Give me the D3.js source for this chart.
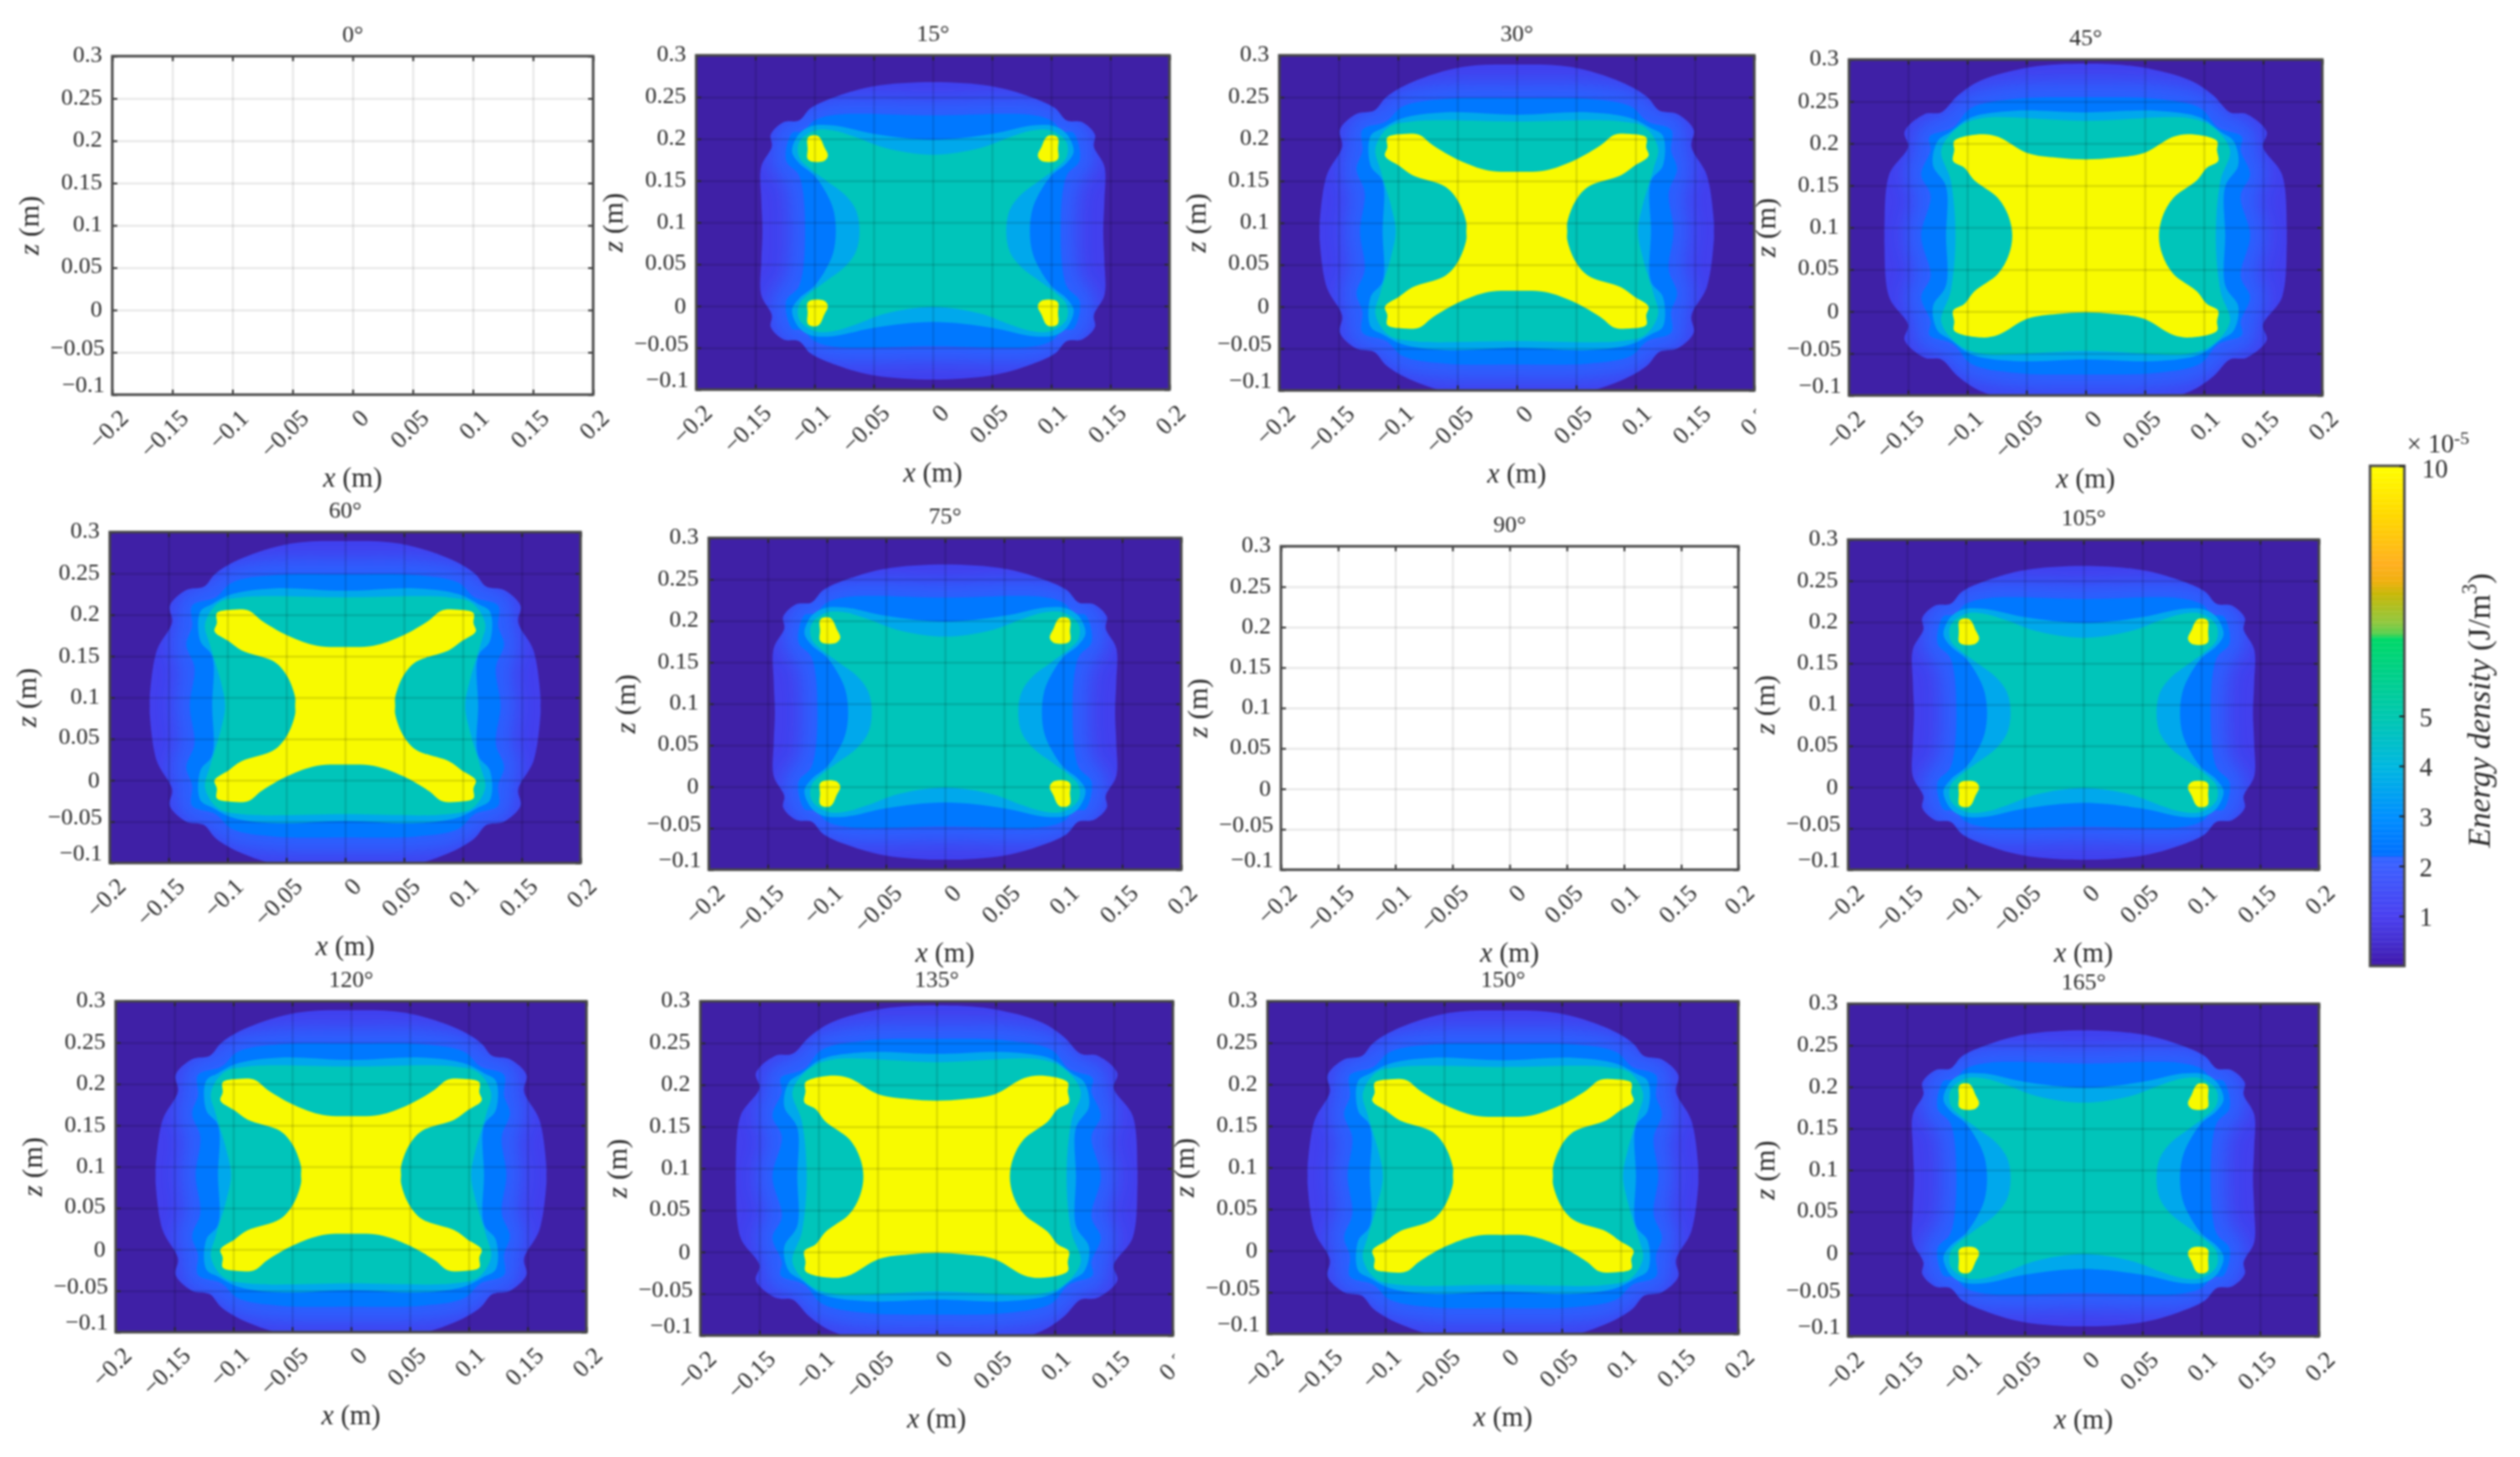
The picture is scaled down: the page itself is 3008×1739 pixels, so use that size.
<!DOCTYPE html>
<html><head><meta charset="utf-8">
<script src="https://cdn.jsdelivr.net/npm/d3@7"></script>
<style>
html,body{margin:0;padding:0;background:#fff}
svg{display:block;filter:blur(0.8px)}
text{font-family:"Liberation Serif","Times New Roman",serif;fill:#2b2b2b}
</style></head><body>
<svg id="chart" width="3008" height="1739"></svg>
<script>
// ---------- data ----------
const angles = [0,15,30,45,60,75,90,105,120,135,150,165];
const panelFamily = ["none","A","B","C","B","A","none","A","B","C","B","A"];
const xTicks = [-0.2,-0.15,-0.1,-0.05,0,0.05,0.1,0.15,0.2];
const xTickLabels = ["−0.2","−0.15","−0.1","−0.05","0","0.05","0.1","0.15","0.2"];
const zTicks = [-0.1,-0.05,0,0.05,0.1,0.15,0.2,0.25,0.3];
const zTickLabels = ["−0.1","−0.05","0","0.05","0.1","0.15","0.2","0.25","0.3"];
const cbarTicks = [1,2,3,4,5,10];
const symmetryZ = 0.09;
// contour levels (x 1e-5 J/m3), one per ring
const ringLevels = [1.3,2.4,3.6,4.8];
// upper-right quadrant of each contour, [x (m), z (m)]
const ringsA = [
 [[0,.268],[.05,.263],[.081,.251],[.103,.237],[.113,.222],[.126,.220],[.137,.205],[.136,.191],[.145,.167],[.145,.127],[.144,.09]],
 [[0,.228],[.081,.229],[.100,.222],[.110,.209],[.119,.207],[.124,.174],[.113,.156],[.108,.09]],
 [[0,.199],[.05,.206],[.084,.216],[.103,.215],[.113,.206],[.119,.185],[.113,.171],[.1,.156],[.09,.135],[.084,.115],[.082,.09]],
 [[0,.181],[.04,.189],[.065,.202],[.084,.21],[.100,.21],[.113,.196],[.113,.178],[.106,.167],[.09,.15],[.075,.134],[.065,.115],[.062,.09]]
];
const ringsB = [
 [[0,.289],[.046,.286],[.088,.268],[.11,.25],[.12,.234],[.135,.23],[.149,.211],[.147,.191],[.16,.157],[.166,.1],[.166,.09]],
 [[0,.249],[.06,.248],[.096,.239],[.11,.221],[.13,.211],[.13,.186],[.135,.164],[.128,.136],[.132,.09]],
 [[0,.229],[.06,.232],[.096,.225],[.113,.213],[.123,.204],[.123,.168],[.113,.15],[.113,.09]],
 [[0,.221],[.088,.221],[.108,.214],[.119,.189],[.115,.164],[.106,.121],[.102,.09]]
];
const ringsC = [
 [[0,.295],[.046,.291],[.0885,.275],[.108,.257],[.122,.237],[.136,.235],[.153,.214],[.15,.196],[.166,.163],[.17,.1],[.17,.09]],
 [[0,.255],[.06,.253],[.097,.242],[.112,.219],[.132,.208],[.131,.192],[.139,.163],[.131,.138],[.139,.09]],
 [[0,.237],[.06,.239],[.097,.231],[.114,.214],[.125,.203],[.129,.174],[.118,.149],[.118,.09]],
 [[0,.227],[.0885,.23],[.108,.219],[.122,.192],[.114,.156],[.11,.09]]
];
const peakB = [[0,.161],[.024,.1625],[.049,.175],[.071,.193],[.082,.205],[.096,.206],[.109,.202],[.109,.19],[.111,.18],[.099,.168],[.088,.157],[.06,.143],[.049,.125],[.0425,.1],[.0425,.09]];
const peakC = [[0,.181],[.024,.183],[.049,.1885],[.074,.208],[.0885,.211],[.111,.203],[.111,.192],[.112,.179],[.1025,.171],[.094,.156],[.074,.135],[.065,.113],[.062,.09]];
const cornerBlobA = [[.097,.203],[.105,.202],[.1055,.188],[.105,.175],[.092,.174],[.089,.18],[.092,.19]];
// colour map of the colour bar
const cmapValues = [0,.5,1,2,2.2,2.21,3,4,5,6.55,6.65,6.87,7.45,7.7,8.04,9,10];
const cmapColors = ["#3f15a8","#4530d0","#4a40f0","#3d60ff","#3064ff","#0070ff","#0090ff","#00b8e0","#00c8b0","#00d868","#58d050","#90c840","#c8b808","#f0b010","#ffb020","#ffd800","#ffff00"];

// ---------- layout (px) ----------
const boxes = [
 [134,708,67,471],[831,1396,66,465],[1527,2094,66,466],[2207,2772,71,472],
 [131,693,635,1030],[846,1410,642,1038],[1529,2075,652,1038],[2206,2768,644,1038],
 [138,700,1195,1590],[836,1400,1195,1594],[1513,2075,1195,1592],[2206,2768,1198,1595]
];
const clippedRightLabel = new Set([30,135]);
const cbarBox = [2829,2870,556,1153];

// ---------- drawing ----------
const svg = d3.select("#chart");
const defs = svg.append("defs");
defs.append("filter").attr("id","soft").attr("x","-30%").attr("y","-30%").attr("width","160%").attr("height","160%")
  .append("feGaussianBlur").attr("stdDeviation",11);
const cmap = d3.scaleLinear().domain(cmapValues).range(cmapColors).interpolate(d3.interpolateRgb);
const rings = {A:ringsA,B:ringsB,C:ringsC};
const line = d3.line().curve(d3.curveCatmullRomClosed.alpha(0.5));

function fullContour(q){
  const c = symmetryZ;
  const lowerRight = q.slice(0,-1).reverse().map(([x,z])=>[x,2*c-z]);
  const right = q.concat(lowerRight);
  const left = right.slice(1,-1).reverse().map(([x,z])=>[-x,z]);
  return right.concat(left);
}
function xIt(s,sym,rest){ s.append("tspan").attr("font-style","italic").text(sym); s.append("tspan").text(rest); }

angles.forEach((ang,i)=>{
  const [x0,x1,y0,y1] = boxes[i];
  const fam = panelFamily[i];
  const X = d3.scaleLinear().domain([-0.2,0.2]).range([x0,x1]);
  const Z = d3.scaleLinear().domain([-0.1,0.3]).range([y1,y0]);
  const g = svg.append("g").attr("class","panel");
  const clipId = "clip"+i;
  defs.append("clipPath").attr("id",clipId).append("rect").attr("x",x0).attr("y",y0).attr("width",x1-x0).attr("height",y1-y0);
  const plot = g.append("g").attr("clip-path",`url(#${clipId})`);
  const toPx = pts => line(pts.map(([x,z])=>[X(x),Z(z)]));
  if(fam!=="none"){
    plot.append("rect").attr("x",x0).attr("y",y0).attr("width",x1-x0).attr("height",y1-y0).attr("fill","#3f20a6");
    const rs = rings[fam];
    rs.forEach((q,k)=>{
      const d = toPx(fullContour(q));
      plot.append("path").attr("d",d).attr("fill",k===0?"#4240ee":cmap(ringLevels[k]));
      if(k===0){
        const hid="halo"+i;
        defs.append("clipPath").attr("id",hid).append("path").attr("d",d);
        plot.append("g").attr("clip-path",`url(#${hid})`).append("path")
          .attr("d",toPx(fullContour(rs[1]))).attr("fill","none").attr("stroke","#2c62ff").attr("stroke-width",36).attr("filter","url(#soft)");
      }
    });
    if(fam==="A"){
      [[1,1],[-1,1],[1,-1],[-1,-1]].forEach(([sx,sz])=>{
        const blob = cornerBlobA.map(([x,z])=>[sx*x, sz>0?z:2*symmetryZ-z]);
        plot.append("path").attr("d",toPx(blob)).attr("fill","#f8fa00").attr("stroke","#f8fa00").attr("stroke-width",1);
      });
    } else {
      plot.append("path").attr("d",toPx(fullContour(fam==="B"?peakB:peakC))).attr("fill","#f8fa00");
    }
  }
  // grid
  const gridX = g.append("g").attr("transform",`translate(0,${y1})`).call(d3.axisBottom(X).tickValues(xTicks).tickSize(-(y1-y0)).tickFormat(""));
  const gridZ = g.append("g").attr("transform",`translate(${x0},0)`).call(d3.axisLeft(Z).tickValues(zTicks).tickSize(-(x1-x0)).tickFormat(""));
  [gridX,gridZ].forEach(a=>{a.select(".domain").remove(); a.selectAll("line").attr("stroke","#000").attr("stroke-opacity",fam==="none"?0.09:0.12).attr("stroke-width",2.5);});
  // inward ticks on all four sides
  const tl=6;
  const tickLines=(axis,tx,ty)=>{const a=g.append("g").attr("transform",`translate(${tx},${ty})`).call(axis.tickSize(tl).tickFormat("")); a.select(".domain").remove(); a.selectAll("line").attr("stroke","#2a2a2a").attr("stroke-width",2);};
  tickLines(d3.axisTop(X).tickValues(xTicks),0,y1);
  tickLines(d3.axisBottom(X).tickValues(xTicks),0,y0);
  tickLines(d3.axisRight(Z).tickValues(zTicks),x0,0);
  tickLines(d3.axisLeft(Z).tickValues(zTicks),x1,0);
  g.append("rect").attr("x",x0).attr("y",y0).attr("width",x1-x0).attr("height",y1-y0).attr("fill","none").attr("stroke","#474747").attr("stroke-width",3);
  // x labels
  const xLab = g.append("g");
  if(clippedRightLabel.has(ang)){
    defs.append("clipPath").attr("id","lab"+i).append("rect").attr("x",0).attr("y",0).attr("width",x1+2).attr("height",1739);
    xLab.attr("clip-path",`url(#lab${i})`);
  }
  xTicks.forEach((v,j)=>{
    const px=X(v)+16, py=y1+25;
    xLab.append("text").attr("transform",`translate(${px},${py}) rotate(-45)`).attr("text-anchor","end").attr("dominant-baseline","middle").attr("font-size",29).text(xTickLabels[j]);
  });
  // z labels (the lowest two sit nudged upward in the original)
  const zNudge=[-9,-3,2,0,1,1,1,1,1];
  zTicks.forEach((v,j)=>{
    g.append("text").attr("x",x0-(j===1||j===0?9:12)).attr("y",Z(v)+zNudge[j]).attr("text-anchor","end").attr("dominant-baseline","middle").attr("font-size",28).text(zTickLabels[j]);
  });
  g.append("text").attr("x",(x0+x1)/2).attr("y",y0-23).attr("text-anchor","middle").attr("dominant-baseline","middle").attr("font-size",28).text(ang+"°");
  const xl=g.append("text").attr("x",(x0+x1)/2).attr("y",y1+102).attr("text-anchor","middle").attr("dominant-baseline","middle").attr("font-size",33);
  xIt(xl,"x"," (m)");
  const zl=g.append("text").attr("transform",`translate(${x0-96},${(y0+y1)/2}) rotate(-90)`).attr("text-anchor","middle").attr("dominant-baseline","middle").attr("font-size",34).attr("fill","#3a3a3a");
  xIt(zl,"z"," (m)");
});

// colour bar
const [cx0,cx1,cy0,cy1]=cbarBox;
const CB = d3.scaleLinear().domain([0,10]).range([cy1,cy0]);
const cbGrid = d3.range(0,10,0.02);
svg.append("g").selectAll("rect").data(cbGrid).join("rect")
  .attr("x",cx0).attr("width",cx1-cx0).attr("y",d=>CB(d+0.02)).attr("height",d=>CB(d)-CB(d+0.02)+0.5).attr("fill",d=>cmap(d+0.01));
svg.append("rect").attr("x",cx0).attr("y",cy0).attr("width",cx1-cx0).attr("height",cy1-cy0).attr("fill","none").attr("stroke","#4a4a4a").attr("stroke-width",3);
const cbAxis = svg.append("g").attr("transform",`translate(${cx1},0)`).call(d3.axisLeft(CB).tickValues(cbarTicks).tickSize(6).tickFormat(""));
cbAxis.select(".domain").remove();
cbAxis.selectAll("line").attr("stroke","#222").attr("stroke-width",2);
cbarTicks.forEach(v=>{
  svg.append("text").attr("x",v===10?cx0+62:cx0+59).attr("y",CB(v)+(v===10?7:5)).attr("dominant-baseline","middle").attr("font-size",31).attr("fill","#3a3a3a").text(v);
});
svg.append("text").attr("x",2873).attr("y",540).attr("font-size",31).attr("fill","#3a3a3a").text("× 10")
  .append("tspan").attr("dy",-10).attr("font-size",22).text("-5");
const cbT = svg.append("text").attr("transform",`translate(2963,848) rotate(-90)`).attr("text-anchor","middle").attr("dominant-baseline","middle").attr("font-size",38).attr("fill","#3a3a3a");
cbT.append("tspan").attr("font-style","italic").text("Energy density");
cbT.append("tspan").text(" (J/m");
cbT.append("tspan").attr("dy",-13).attr("font-size",25).text("3");
cbT.append("tspan").attr("dy",13).text(")");
</script>
</body></html>
